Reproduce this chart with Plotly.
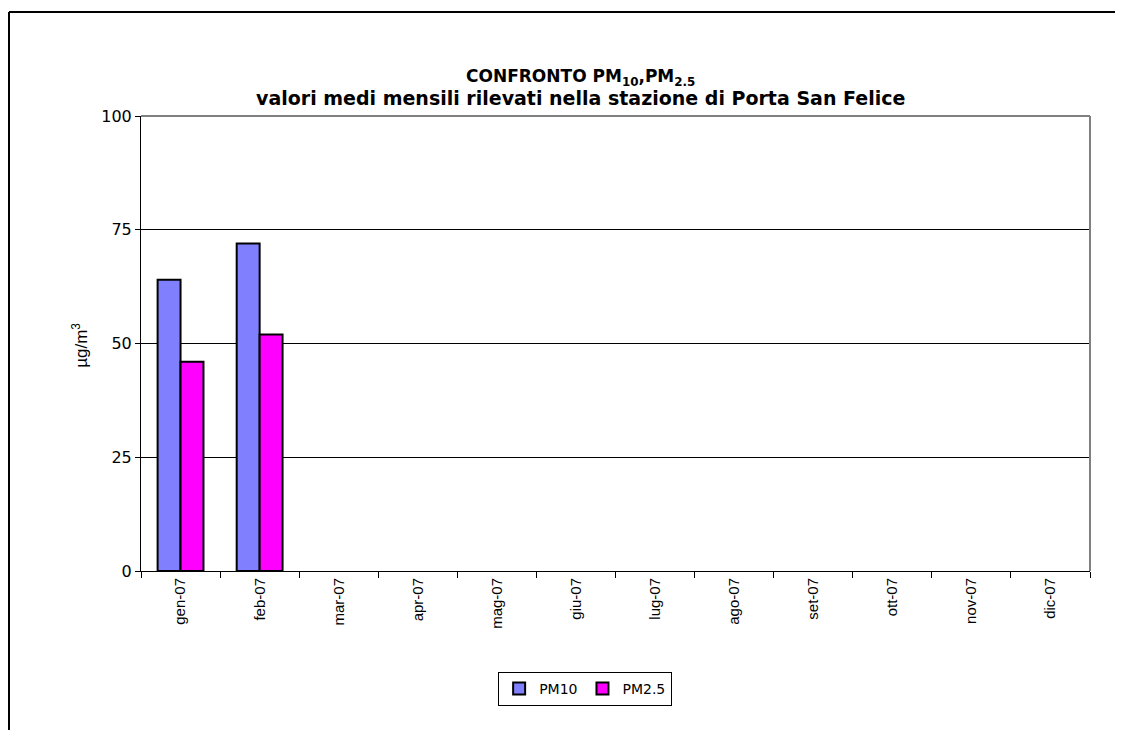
import plotly.graph_objects as go

# ── Data ──────────────────────────────────────────────────────────────────────
months = ["gen-07", "feb-07", "mar-07", "apr-07", "mag-07", "giu-07",
          "lug-07", "ago-07", "set-07", "ott-07", "nov-07", "dic-07"]
pm10 = [64, 72, None, None, None, None, None, None, None, None, None, None]
pm25 = [46, 52, None, None, None, None, None, None, None, None, None, None]
y_ticks = [0, 25, 50, 75, 100]

FONT = "Liberation Sans, Arial, sans-serif"
WIDE = "DejaVu Sans, Liberation Sans, sans-serif"

fig = go.Figure()
fig.add_trace(go.Bar(
    x=months, y=pm10, name="PM10",
    marker=dict(color="#8080FF", line=dict(color="black", width=2)),
))
fig.add_trace(go.Bar(
    x=months, y=pm25, name="PM2.5",
    marker=dict(color="#FF00FF", line=dict(color="black", width=2)),
))

# page has an 8px body margin -> figure fits in 1107x722
fig.update_layout(
    width=1107, height=722,
    paper_bgcolor="white", plot_bgcolor="white",
    font=dict(family=FONT, color="black", size=15),
    margin=dict(l=133, r=25, t=108, b=159),
    barmode="group", bargap=0.42, bargroupgap=0,
    showlegend=True,
    legend=dict(
        orientation="h", x=0.468, xanchor="center", y=-0.222, yanchor="top",
        bordercolor="black", borderwidth=1, font=dict(size=14, family=WIDE),
        itemwidth=30, tracegroupgap=0,
    ),
    xaxis=dict(
        type="category", tickangle=-90, showline=True, linecolor="black",
        linewidth=1, ticks="outside", ticklen=6, tickcolor="black",
        tickson="boundaries", showgrid=False, tickfont=dict(size=15),
    ),
    yaxis=dict(
        range=[0, 100], tickvals=y_ticks, showline=True,
        linecolor="black", linewidth=1, ticks="outside", ticklen=5,
        tickcolor="black", showgrid=True, gridcolor="black", gridwidth=1,
        zeroline=False, tickfont=dict(size=16, family=WIDE),
    ),
    annotations=[
        dict(text="<b>CONFRONTO PM<sub>10</sub>,PM<sub>2.5</sub></b>",
             xref="paper", yref="paper", x=0.4626, y=1.0857,
             xanchor="center", yanchor="middle", showarrow=False,
             font=dict(size=17, family=WIDE)),
        dict(text="<b>valori medi mensili rilevati nella stazione di Porta San Felice</b>",
             xref="paper", yref="paper", x=0.4626, y=1.0396,
             xanchor="center", yanchor="middle", showarrow=False,
             font=dict(size=19, family=WIDE)),
        dict(text="µg/m<sup>3</sup>", textangle=-90,
             xref="paper", yref="paper", x=-0.0643, y=0.497,
             xanchor="center", yanchor="middle", showarrow=False,
             font=dict(size=17)),
    ],
    shapes=[
        # top and right plot border (grey)
        dict(type="line", xref="paper", yref="paper", x0=0, x1=1, y0=1, y1=1,
             line=dict(color="#808080", width=2), layer="above"),
        dict(type="line", xref="paper", yref="paper", x0=1, x1=1, y0=0, y1=1,
             line=dict(color="#808080", width=2), layer="above"),
        # outer chart frame: top and left edges only (others fall off the page)
        dict(type="line", xref="paper", yref="paper",
             x0=-0.1391, x1=1.1, y0=1.2286, y1=1.2286,
             line=dict(color="black", width=2), layer="below"),
        dict(type="line", xref="paper", yref="paper",
             x0=-0.1391, x1=-0.1391, y0=-0.6, y1=1.2286,
             line=dict(color="black", width=2), layer="below"),
    ],
)

fig.write_html("out.html")
